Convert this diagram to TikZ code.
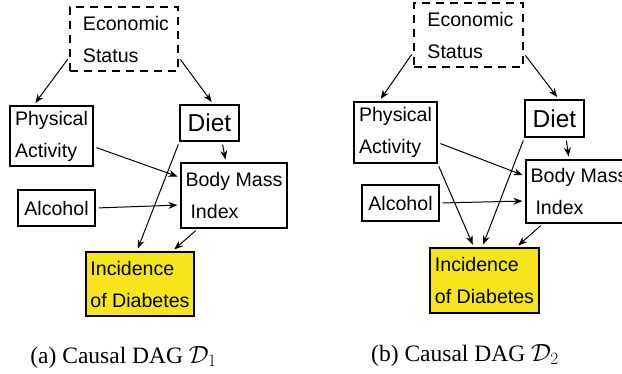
\documentclass[tikz,border=0pt]{standalone}
\usepackage{amsmath}
\usepackage{amssymb}
\usepackage{fontspec}
\setmainfont{Liberation Serif}
\newfontfamily\helv{Liberation Sans}
\usetikzlibrary{arrows.meta, positioning}
\definecolor{diabyellow}{RGB}{247,229,28}

\begin{document}
\begin{tikzpicture}[x=1pt, y=-1pt,
	var/.style={draw, line width=1.2pt, align=left, inner xsep=2pt, inner ysep=1pt,
		font=\helv\fontsize{19.6}{32}\selectfont},
	latent/.style={var, dash pattern=on 8pt off 6pt},
	outcome/.style={var, fill=diabyellow},
	cause/.style={-{Stealth[length=9pt, width=7pt, inset=3pt]}, line width=1pt,
		shorten <=3pt, shorten >=3pt},
	captext/.style={font=\fontsize{23.5}{28}\selectfont}]
	\useasboundingbox (0,0) rectangle (622,373);
	% (a) first DAG
	\node[latent, minimum width=108pt, minimum height=64pt] (es1) at (124,39) {\hspace*{4pt}Economic\\\hspace*{4pt}Status};
	\node[var, minimum width=83pt, minimum height=60pt] (pa1) at (51.5,136) {Physical\\Activity};
	\node[var, minimum width=59pt, minimum height=36pt, font=\helv\fontsize{24.5}{28}\selectfont] (diet1) at (209.5,123) {Diet};
	\node[var, minimum width=106pt, minimum height=65pt] (bmi1) at (234,195.5) {Body Mass\\\hspace*{5pt}Index};
	\node[var, minimum width=77pt, minimum height=36pt] (alc1) at (56.5,208) {Alcohol};
	\node[outcome, minimum width=108pt, minimum height=64pt] (inc1) at (140,284) {Incidence\\of Diabetes};
	\node[captext] (cap1) at (123.5,357) {(a) Causal DAG $\mathcal{D}_1$};
	\draw[cause] ([yshift=-18pt]es1.west) -- ([xshift=-18pt]pa1.north);
	\draw[cause] ([yshift=-18pt]es1.east) -- ([xshift=4pt]diet1.north);
	\draw[cause] ([yshift=-10.6pt]pa1.east) -- ([yshift=18pt]bmi1.west);
	\draw[cause] ([xshift=12.5pt]diet1.south) -- ([xshift=-8pt]bmi1.north);
	\draw[cause] (diet1.south west) -- ([xshift=-3.3pt]inc1.north);
	\draw[cause] (alc1.east) -- ([yshift=-9.5pt]bmi1.west);
	\draw[cause] ([xshift=-36pt]bmi1.south) -- ([xshift=32pt]inc1.north);
	% (b) second DAG
	\node[latent, minimum width=109pt, minimum height=64pt] (es2) at (468.5,35) {\hspace*{4pt}Economic\\\hspace*{4pt}Status};
	\node[var, minimum width=83pt, minimum height=61pt] (pa2) at (395.5,132.5) {Physical\\Activity};
	\node[var, minimum width=59pt, minimum height=37pt, font=\helv\fontsize{24.5}{28}\selectfont] (diet2) at (554.5,118.5) {Diet};
	\node[var, minimum width=106pt, minimum height=63pt] (bmi2) at (579,191.5) {Body Mass\\\hspace*{5pt}Index};
	\node[var, minimum width=77pt, minimum height=36pt] (alc2) at (400.5,203) {Alcohol};
	\node[outcome, minimum width=109pt, minimum height=65pt] (inc2) at (484.5,280.5) {Incidence\\of Diabetes};
	\node[captext] (cap2) at (465,355) {(b) Causal DAG $\mathcal{D}_2$};
	\draw[cause] ([yshift=-17pt]es2.west) -- ([xshift=-16.5pt]pa2.north);
	\draw[cause] ([yshift=-18pt]es2.east) -- ([xshift=4.5pt]diet2.north);
	\draw[cause] ([yshift=-10pt]pa2.east) -- ([yshift=15.4pt]bmi2.west);
	\draw[cause] ([xshift=11.5pt]diet2.south) -- ([xshift=-10pt]bmi2.north);
	\draw[cause] (pa2.south east) -- ([xshift=-10.5pt]inc2.north);
	\draw[cause] (diet2.south west) -- ([xshift=-2.5pt]inc2.north);
	\draw[cause] (alc2.east) -- ([yshift=-9.5pt]bmi2.west);
	\draw[cause] ([xshift=-36pt]bmi2.south) -- ([xshift=31.5pt]inc2.north);
\end{tikzpicture}
\end{document}
